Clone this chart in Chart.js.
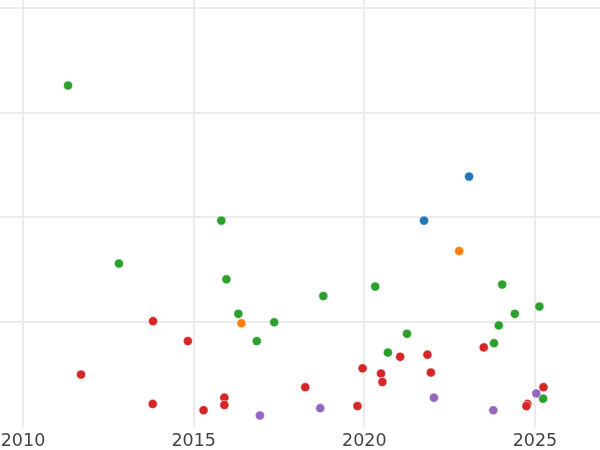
<!DOCTYPE html>
<html>
<head>
<meta charset="utf-8">
<script src="https://cdn.jsdelivr.net/npm/chart.js@4/dist/chart.umd.min.js"></script>
<style>
  html, body { margin: 0; padding: 0; background: #fff; }
  #wrap { width: 600px; height: 450px; }
</style>
</head>
<body>
<div id="wrap"><canvas id="chart"></canvas></div>
<script>
/* ===== data (year, value) ===== */
const xTicks = [2010, 2015, 2020, 2025];
const yTicks = [0, 1, 2, 3, 4];

const greenX = [2011.32, 2012.81, 2015.81, 2015.96, 2016.31, 2016.85, 2017.36, 2018.80, 2020.32, 2020.69, 2021.25, 2023.80, 2023.94, 2024.04, 2024.41, 2025.13, 2025.24];
const greenY = [3.26, 1.56, 1.97, 1.41, 1.08, 0.82, 1.00, 1.25, 1.34, 0.71, 0.89, 0.80, 0.97, 1.36, 1.08, 1.15, 0.27];

const redX = [2011.70, 2013.81, 2013.80, 2014.83, 2015.29, 2015.90, 2015.90, 2018.27, 2019.80, 2019.95, 2020.49, 2020.53, 2021.05, 2021.85, 2021.95, 2023.50, 2024.78, 2024.75, 2025.25];
const redY = [0.50, 1.01, 0.22, 0.82, 0.16, 0.28, 0.21, 0.38, 0.20, 0.56, 0.51, 0.43, 0.67, 0.69, 0.52, 0.76, 0.22, 0.20, 0.38];

const blueX = [2021.75, 2023.07];
const blueY = [1.97, 2.39];

const orangeX = [2016.40, 2022.78];
const orangeY = [0.99, 1.68];

const purpleX = [2016.94, 2018.71, 2022.04, 2023.78, 2025.04];
const purpleY = [0.11, 0.18, 0.28, 0.16, 0.32];

/* ===== helpers ===== */
const pts = (xs, ys) => xs.map((x, i) => ({ x: x, y: ys[i] }));

function series(label, xs, ys, color) {
  return {
    label: label,
    data: pts(xs, ys),
    backgroundColor: color,
    borderColor: '#ffffff',
    borderWidth: 0.6,
    pointRadius: 4.6,
    pointHoverRadius: 4.6
  };
}

// no extra room around the plot, it runs to the canvas edges
function noPad(s) {
  s.paddingLeft = 0;
  s.paddingRight = 0;
  s.paddingTop = 0;
  s.paddingBottom = 0;
}

/* ===== chart ===== */
// dataset 0 is painted on top
new Chart(document.getElementById('chart'), {
  type: 'scatter',
  data: {
    datasets: [
      series('purple', purpleX, purpleY, '#9467bd'),
      series('orange', orangeX, orangeY, '#ff7f0e'),
      series('red', redX, redY, '#d62728'),
      series('green', greenX, greenY, '#2ca02c'),
      series('blue', blueX, blueY, '#1f77b4')
    ]
  },
  options: {
    responsive: true,
    maintainAspectRatio: false,
    animation: false,
    layout: { padding: 0, autoPadding: false },
    plugins: { legend: { display: false }, tooltip: { enabled: false } },
    scales: {
      x: {
        type: 'linear',
        min: 2009.326,
        max: 2026.906,
        border: { display: false },
        grid: { color: '#ebebeb', lineWidth: 2, drawTicks: false },
        afterFit: s => { s.height = 23; noPad(s); },
        ticks: {
          stepSize: 5,
          includeBounds: false,
          padding: 4,
          color: '#444444',
          font: { family: 'DejaVu Sans', size: 17.5 },
          maxRotation: 0,
          autoSkip: false,
          callback: v => xTicks.includes(v) ? String(v) : ''
        }
      },
      y: {
        min: 0,
        max: 4.076,
        border: { display: false },
        afterFit: s => { s.width = 0; noPad(s); },
        grid: {
          drawTicks: false,
          lineWidth: 2,
          color: c => (c.tick && c.tick.value === 0) ? 'rgba(0,0,0,0)' : '#ebebeb'
        },
        ticks: {
          display: false,
          stepSize: 1,
          includeBounds: false,
          callback: v => yTicks.includes(v) ? String(v) : ''
        }
      }
    }
  }
});
</script>
</body>
</html>
